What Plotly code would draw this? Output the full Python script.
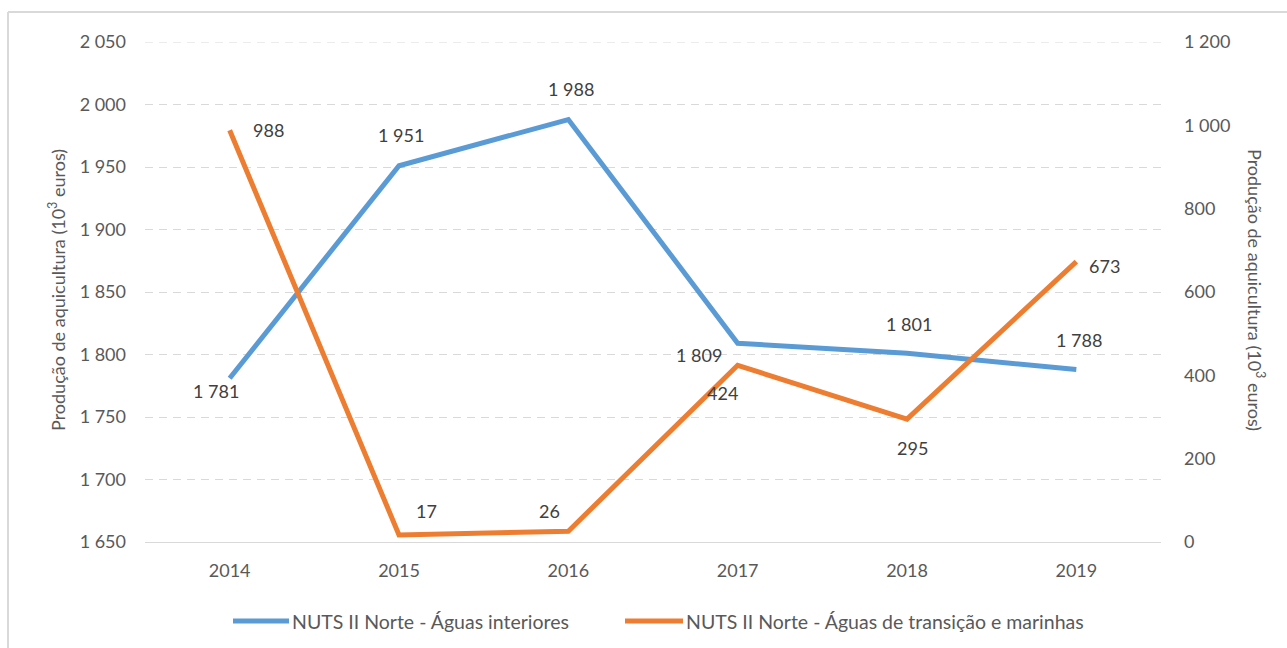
import plotly.graph_objects as go

# Aquaculture production, NUTS II Norte (10^3 euros)
years = ["2014", "2015", "2016", "2017", "2018", "2019"]
aguas_interiores = [1781, 1951, 1988, 1809, 1801, 1788]
aguas_transicao_marinhas = [988, 17, 26, 424, 295, 673]

name_interiores = "NUTS II Norte - Águas interiores"
name_marinhas = "NUTS II Norte - Águas de transição e marinhas"
axis_title = "Produção de aquicultura (10<sup>3</sup> euros)"

BLUE = "#5B9BD5"
ORANGE = "#ED7D31"
GRID = "#D9D9D9"
TICK_TXT = "#595959"
LABEL_TXT = "#404040"
FONT = "Lato, Open Sans, sans-serif"
FS = 18

Y_LEFT = [1650, 2050]
Y_RIGHT = [0, 1200]

# plot-area geometry in pixels
W, H = 1287, 648
L, R, T, B = 145, 1161, 42, 542


def px_x(p):
    return (p - L) / (R - L)


def px_y(p):
    return (B - p) / (B - T)


def fmt(v):
    return f"{v:,}".replace(",", " ")


fig = go.Figure()
fig.add_trace(go.Scatter(x=years, y=aguas_interiores, mode="lines", name=name_interiores,
                         line=dict(color=BLUE, width=5), showlegend=False, yaxis="y"))
fig.add_trace(go.Scatter(x=years, y=aguas_transicao_marinhas, mode="lines", name=name_marinhas,
                         line=dict(color=ORANGE, width=5), showlegend=False, yaxis="y2"))

# data labels (offsets in pixels); x given as category index
blue_off = [(-14, -13), (2, 31), (3, 31), (-39, -12), (2, 29), (3, 30)]
orange_off = [(39, 0), (27, 24), (-19, 20), (-15, -28), (5, -29), (28, -4)]
label_font = dict(size=FS, color=LABEL_TXT, family=FONT)
annotations = []
for i, (v, (dx, dy)) in enumerate(zip(aguas_interiores, blue_off)):
    annotations.append(dict(x=i, y=v, xref="x", yref="y", text=fmt(v), showarrow=False,
                            xshift=dx, yshift=dy, font=label_font))
for i, (v, (dx, dy)) in enumerate(zip(aguas_transicao_marinhas, orange_off)):
    annotations.append(dict(x=i, y=v, xref="x", yref="y2", text=fmt(v), showarrow=False,
                            xshift=dx, yshift=dy, font=label_font))

# axis titles
title_font = dict(size=FS, color=TICK_TXT, family=FONT)
annotations.append(dict(x=px_x(57), y=px_y(290), xref="paper", yref="paper", text=axis_title,
                        textangle=-90, xanchor="center", yanchor="middle", showarrow=False,
                        font=title_font))
annotations.append(dict(x=px_x(1256), y=px_y(290), xref="paper", yref="paper", text=axis_title,
                        textangle=90, xanchor="center", yanchor="middle", showarrow=False,
                        font=title_font))

# legend
shapes = []
legend_font = dict(size=19.5, color=TICK_TXT, family=FONT)
legend_items = [(233, 289, BLUE, name_interiores), (625, 683, ORANGE, name_marinhas)]
for x0, x1, col, txt in legend_items:
    shapes.append(dict(type="line", xref="paper", yref="paper", x0=px_x(x0), x1=px_x(x1),
                       y0=px_y(621), y1=px_y(621), line=dict(color=col, width=5)))
    annotations.append(dict(x=px_x(x1 + 1), y=px_y(621), xref="paper", yref="paper", text=txt,
                            xanchor="left", yanchor="middle", showarrow=False,
                            font=legend_font))

# top gridline (at the upper end of the left axis range)
shapes.append(dict(type="line", xref="paper", yref="y", x0=0, x1=1, y0=Y_LEFT[1], y1=Y_LEFT[1],
                   line=dict(color=GRID, width=1, dash="8px,6px"), layer="below"))

# chart-area border
shapes.append(dict(type="line", xref="paper", yref="paper", x0=px_x(8), x1=px_x(W + 5),
                   y0=px_y(12), y1=px_y(12), line=dict(color=GRID, width=2)))
shapes.append(dict(type="line", xref="paper", yref="paper", x0=px_x(8), x1=px_x(8),
                   y0=px_y(12), y1=px_y(H + 5), line=dict(color=GRID, width=2)))

fig.update_layout(
    width=W, height=H,
    margin=dict(l=L, r=W - R, t=T, b=H - B),
    paper_bgcolor="white", plot_bgcolor="white",
    separators=", ",
    font=dict(family=FONT, size=FS, color=TICK_TXT),
    xaxis=dict(type="category", range=[-0.5, 5.5], showgrid=False, showline=True,
               linecolor=GRID, linewidth=1, ticks="", ticklabelstandoff=12,
               tickfont=dict(size=FS, color=TICK_TXT)),
    yaxis=dict(range=Y_LEFT, tick0=1650, dtick=50, tickformat=",d", showgrid=True,
               gridcolor=GRID, gridwidth=1, griddash="8px,6px", zeroline=False,
               showline=False, ticks="", ticklabelstandoff=18,
               tickfont=dict(size=FS, color=TICK_TXT)),
    yaxis2=dict(range=Y_RIGHT, tick0=0, dtick=200, tickformat=",d", overlaying="y",
                side="right", showgrid=False, zeroline=False, showline=False, ticks="",
                ticklabelstandoff=22, tickfont=dict(size=FS, color=TICK_TXT)),
    annotations=annotations,
    shapes=shapes,
    showlegend=False,
)

fig.write_html("out.html")
